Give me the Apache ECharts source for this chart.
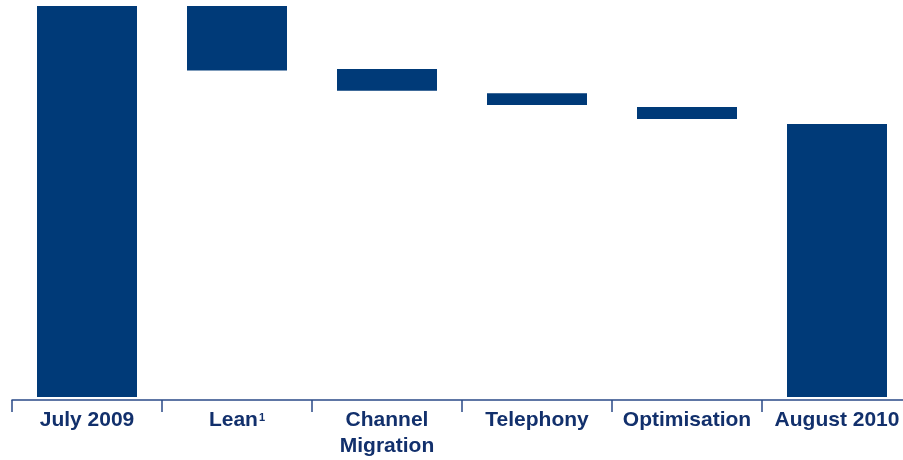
<!DOCTYPE html>
<html>
<head>
<meta charset="utf-8">
<script src="https://cdn.jsdelivr.net/npm/echarts@6/dist/echarts.min.js"></script>
<style>
  html, body { margin: 0; padding: 0; background: #ffffff; }
  #chart { width: 903px; height: 460px; }
</style>
</head>
<body>
<div id="chart"></div>
<script>
// Cost base walk, indexed to July 2009 = 100
const categories = ['July 2009', 'Lean', 'Channel\nMigration', 'Telephony', 'Optimisation', 'August 2010'];
const barLow  = [0,   83.5, 78.3, 74.7, 71.1, 0];
const barHigh = [100, 100,  83.9, 77.7, 74.2, 69.8];
const footnoted = { 'Lean': '1' };

const barColor = '#003a78';
const textColor = '#12306c';
const axisColor = '#2a4988';
const font = 'Liberation Sans, Arial, sans-serif';

const spans = barHigh.map((h, i) => +(h - barLow[i]).toFixed(2));

const chart = echarts.init(document.getElementById('chart'), null, { renderer: 'canvas' });
chart.setOption({
  animation: false,
  backgroundColor: '#ffffff',
  grid: { left: 12, top: 6, width: 900, bottom: 63, outerBoundsMode: 'none', containLabel: false },
  xAxis: {
    type: 'category',
    data: categories,
    offset: 3,
    axisLine: { show: true, onZero: false, lineStyle: { color: axisColor, width: 1.5 } },
    axisTick: { show: true, length: 12, alignWithLabel: false, lineStyle: { color: axisColor, width: 1.5 } },
    axisLabel: {
      interval: 0,
      hideOverlap: false,
      margin: 7,
      color: textColor,
      fontFamily: font,
      fontWeight: 'bold',
      fontSize: 21,
      lineHeight: 26,
      formatter: function (v) {
        if (footnoted[v]) return '{m|' + v + '}{s|' + footnoted[v] + '}';
        return v;
      },
      rich: {
        m: { fontFamily: font, fontWeight: 'bold', fontSize: 21, lineHeight: 26, color: textColor },
        s: { fontFamily: font, fontWeight: 'bold', fontSize: 11, lineHeight: 26, color: textColor, verticalAlign: 'top', padding: [5, 0, 0, 1] }
      }
    }
  },
  yAxis: {
    type: 'value',
    min: 0,
    max: 100,
    show: false,
    splitLine: { show: false }
  },
  series: [
    {
      name: 'base',
      type: 'bar',
      stack: 'walk',
      data: barLow,
      barWidth: 100,
      itemStyle: { color: 'rgba(0,0,0,0)' },
      silent: true
    },
    {
      name: 'value',
      type: 'bar',
      stack: 'walk',
      data: spans,
      barWidth: 100,
      itemStyle: { color: barColor }
    }
  ]
});
</script>
</body>
</html>
